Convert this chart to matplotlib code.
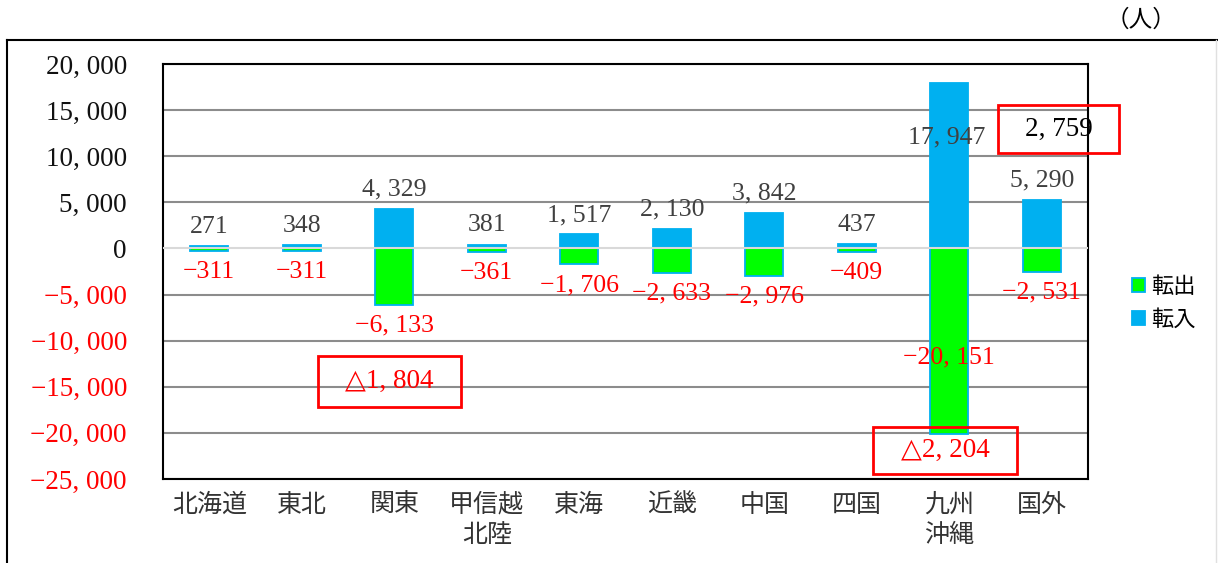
import matplotlib.pyplot as plt
from matplotlib.patches import Patch, Rectangle
from matplotlib.lines import Line2D

# 地域ブロック別 転入・転出（人）
regions = ['北海道', '東北', '関東', '甲信越\n北陸', '東海', '近畿', '中国', '四国', '九州\n沖縄', '国外']
tennyu = [271, 348, 4329, 381, 1517, 2130, 3842, 437, 17947, 5290]
tenshutsu = [-311, -311, -6133, -361, -1706, -2633, -2976, -409, -20151, -2531]
yticks = [20000, 15000, 10000, 5000, 0, -5000, -10000, -15000, -20000, -25000]

W, H = 1218, 563
BLUE = '#00B0F0'
GREEN = '#00FF00'
SERIF = ['Liberation Serif', 'DejaVu Sans']
JP = ['Noto Sans CJK JP', 'DejaVu Sans']


def fmt(v):
    s = f'{abs(v):,}'.replace(',', ', ')
    return ('\u2212' + s) if v < 0 else s


def px(x, y):
    return x / W, 1 - y / H


fig = plt.figure(figsize=(W / 100, H / 100), dpi=100)
ax = fig.add_axes([163 / W, 1 - 479 / H, (1088 - 163) / W, (479 - 64) / H])

xs = list(range(len(regions)))
b_out = ax.bar(xs, tenshutsu, width=0.41, color=GREEN, edgecolor=BLUE, linewidth=1.3, zorder=2)
b_in = ax.bar(xs, tennyu, width=0.41, color=BLUE, edgecolor=BLUE, linewidth=1.3, zorder=2)

ax.set_xlim(-0.5, len(regions) - 0.5)
ax.set_ylim(-25000, 20000)
ax.set_yticks(yticks)
ax.set_yticklabels([fmt(v) for v in yticks], fontfamily=SERIF, fontsize=19.5)
for lab, v in zip(ax.get_yticklabels(), yticks):
    lab.set_color('red' if v < 0 else '#111111')
ax.set_xticks(xs)
ax.set_xticklabels(regions, fontfamily=JP, fontsize=18, linespacing=1.2, color='#333333')
ax.tick_params(axis='y', length=0, pad=26)
ax.tick_params(axis='x', length=0, pad=9)

for v in yticks:
    if v != 0:
        ax.axhline(v, color='#8C8C8C', lw=1.5, zorder=1)
ax.axhline(0, color='#D9D9D9', lw=1.5, zorder=3)
for s in ax.spines.values():
    s.set_linewidth(1.5)
    s.set_color('black')

# data labels (九州沖縄 は手動位置)
for i, (vi, vo) in enumerate(zip(tennyu, tenshutsu)):
    if regions[i].startswith('九州'):
        ax.text(i - 0.03, 12000, fmt(vi), ha='center', va='center',
                fontfamily=SERIF, fontsize=18.5, color='#404040', zorder=4)
        ax.text(i, -11800, fmt(vo), ha='center', va='center',
                fontfamily=SERIF, fontsize=18.5, color='red', zorder=4)
        continue
    ax.annotate(fmt(vi), (i, vi), xytext=(0, 14), textcoords='offset points',
                ha='center', va='center', fontfamily=SERIF, fontsize=18.5, color='#404040', zorder=4)
    ax.annotate(fmt(vo), (i, vo), xytext=(0, -15), textcoords='offset points',
                ha='center', va='center', fontfamily=SERIF, fontsize=18.5, color='red', zorder=4)

# 差引（転入超過）の枠
net = {r: a + b for r, a, b in zip(regions, tennyu, tenshutsu)}
boxes = [('関東', (318, 356, 461, 407), 'red'),
         ('九州\n沖縄', (873, 427, 1017, 474), 'red'),
         ('国外', (998, 105, 1119, 153), 'black')]
for key, (x0, y0, x1, y1), tc in boxes:
    v = net[key]
    txt = ('△' + f'{-v:,}'.replace(',', ', ')) if v < 0 else f'{v:,}'.replace(',', ', ')
    fx0, fy1 = px(x0, y1)
    fig.add_artist(Rectangle((fx0, fy1), (x1 - x0) / W, (y1 - y0) / H,
                             transform=fig.transFigure, fill=False,
                             edgecolor='#FF0000', linewidth=2, zorder=5))
    cx, cy = px((x0 + x1) / 2, (y0 + y1) / 2)
    fig.text(cx, cy, txt, ha='center', va='center', fontfamily=SERIF,
             fontsize=19.5, color=tc, zorder=6)

# legend
handles = [Patch(facecolor=GREEN, edgecolor=BLUE, linewidth=1.3, label='転出'),
           Patch(facecolor=BLUE, edgecolor=BLUE, linewidth=1.3, label='転入')]
fig.legend(handles=handles, loc='center left', bbox_to_anchor=px(1121, 303),
           frameon=False, prop={'family': JP, 'size': 16}, handlelength=0.6,
           handleheight=0.6, handletextpad=0.25, labelspacing=0.45, borderpad=0)

# unit and outer frame
fig.text(*px(1141, 20), '（人）', ha='center', va='center', fontfamily=JP, fontsize=17)
fig.add_artist(Line2D([7 / W, 7 / W], [0, 1 - 40 / H], transform=fig.transFigure, color='black', lw=1.5))
fig.add_artist(Line2D([7 / W, 1], [1 - 40 / H, 1 - 40 / H], transform=fig.transFigure, color='black', lw=1.5))
fig.add_artist(Line2D([1216 / W, 1216 / W], [0, 1 - 40 / H], transform=fig.transFigure, color='#E0E0E0', lw=1))

fig.savefig('out.png', dpi=100)
